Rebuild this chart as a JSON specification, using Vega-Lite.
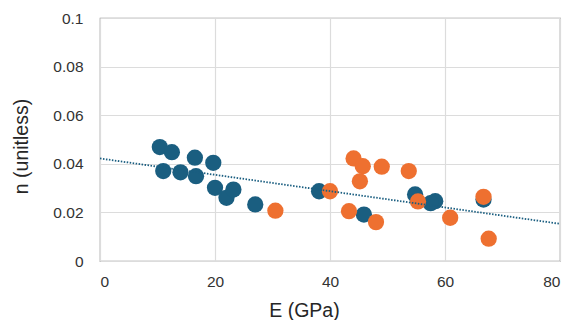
{
  "$schema": "https://vega.github.io/schema/vega-lite/v6.json",
  "width": 460,
  "height": 243,
  "autosize": "none",
  "padding": {"left": 100, "top": 18, "right": 10, "bottom": 59},
  "background": "white",
  "config": {
    "view": {"stroke": "#8c8c8c", "strokeWidth": 1.2},
    "axis": {
      "labelFont": "Liberation Sans",
      "titleFont": "Liberation Sans",
      "labelFontSize": 15.5,
      "titleFontSize": 19.5,
      "labelColor": "#333333",
      "titleColor": "#262626",
      "titleFontWeight": "normal",
      "gridColor": "#dcdcdc",
      "gridWidth": 1.2,
      "domain": false,
      "ticks": false
    }
  },
  "layer": [
    {
      "data": {
        "values": [
          {"E": 10.4, "n": 0.0469, "group": "A"},
          {"E": 12.5, "n": 0.0448, "group": "A"},
          {"E": 11.0, "n": 0.0370, "group": "A"},
          {"E": 14.0, "n": 0.0365, "group": "A"},
          {"E": 16.5, "n": 0.0425, "group": "A"},
          {"E": 16.7, "n": 0.0349, "group": "A"},
          {"E": 19.7, "n": 0.0404, "group": "A"},
          {"E": 20.0, "n": 0.0301, "group": "A"},
          {"E": 22.0, "n": 0.0260, "group": "A"},
          {"E": 23.2, "n": 0.0294, "group": "A"},
          {"E": 27.0, "n": 0.0233, "group": "A"},
          {"E": 38.1, "n": 0.0287, "group": "A"},
          {"E": 45.9, "n": 0.0191, "group": "A"},
          {"E": 54.8, "n": 0.0274, "group": "A"},
          {"E": 58.3, "n": 0.0246, "group": "A"},
          {"E": 57.5, "n": 0.0238, "group": "A"},
          {"E": 66.7, "n": 0.0253, "group": "A"},
          {"E": 30.5, "n": 0.0207, "group": "B"},
          {"E": 44.1, "n": 0.0422, "group": "B"},
          {"E": 45.7, "n": 0.0390, "group": "B"},
          {"E": 49.0, "n": 0.0388, "group": "B"},
          {"E": 45.2, "n": 0.0328, "group": "B"},
          {"E": 53.7, "n": 0.0370, "group": "B"},
          {"E": 40.0, "n": 0.0287, "group": "B"},
          {"E": 43.3, "n": 0.0205, "group": "B"},
          {"E": 48.0, "n": 0.0160, "group": "B"},
          {"E": 55.3, "n": 0.0245, "group": "B"},
          {"E": 60.9, "n": 0.0178, "group": "B"},
          {"E": 66.7, "n": 0.0264, "group": "B"},
          {"E": 67.6, "n": 0.0092, "group": "B"}
        ]
      },
      "mark": {"type": "circle", "size": 265, "opacity": 1},
      "encoding": {
        "x": {
          "field": "E", "type": "quantitative",
          "scale": {"domain": [0, 80], "nice": false},
          "axis": {"values": [0, 20, 40, 60, 80], "title": "E (GPa)", "labelPadding": 13, "titleX": 204, "titleY": 49, "titleBaseline": "middle"}
        },
        "y": {
          "field": "n", "type": "quantitative",
          "scale": {"domain": [0, 0.1], "nice": false},
          "axis": {"values": [0, 0.02, 0.04, 0.06, 0.08, 0.1], "title": "n (unitless)", "labelPadding": 17, "titleX": -79, "titleY": 128, "titleBaseline": "middle", "labelExpr": "datum.value == 0 ? '0' : format(datum.value, '.2~f')"}
        },
        "color": {
          "field": "group", "type": "nominal",
          "scale": {"domain": ["A", "B"], "range": ["#1a5e80", "#ee7030"]},
          "legend": null
        },
        "order": {"field": "group"}
      }
    },
    {
      "data": {"values": [{"E": 0, "n": 0.0422}, {"E": 80, "n": 0.0153}]},
      "mark": {"type": "line", "color": "#1a5e80", "strokeWidth": 1.8, "strokeDash": [1.5, 1.5]},
      "encoding": {
        "x": {"field": "E", "type": "quantitative"},
        "y": {"field": "n", "type": "quantitative"}
      }
    }
  ]
}
